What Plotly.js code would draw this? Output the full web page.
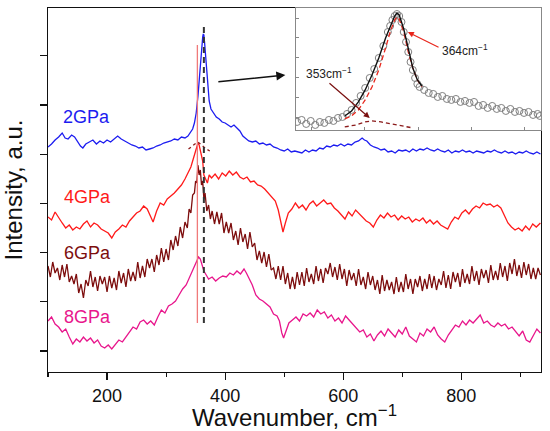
<!DOCTYPE html>
<html>
<head>
<meta charset="utf-8">
<script src="https://cdn.plot.ly/plotly-3.0.1.min.js"></script>
<style>html,body{margin:0;padding:0;background:#fff;}#chart{width:550px;height:431px;}</style>
</head>
<body>
<div id="chart"></div>
<script>
// ---- data (intensity in arbitrary units) ----
const wn2GPa = [100,106,112,118,124,129,134,140,145,150,155,159,164,170,176,182,188,194,200,206,212,218,224,230,236,242,248,254,260,266,272,278,284,290,296,302,308,314,320,326,332,337,341,345,348,351,354,356,358,360,362,363,364,365,367,369,371,373,376,380,385,390,395,400,405,410,415,420,425,430,435,440,446,452,458,464,470,476,482,488,494,500,506,512,518,524,530,536,542,548,554,560,566,572,578,584,590,596,602,608,614,620,626,632,636,640,646,652,658,664,670,676,682,688,694,700,706,712,718,724,730,736,742,748,754,760,766,772,778,784,790,796,802,808,814,820,826,832,838,844,850,856,862,868,874,880,886,892,898,904,910,916,922,928,934];
const int2GPa = [204,207,211,214,218,213,212,216,214,209,205,203,207,209,211,207,210,208,211,209,212,215,212,210,208,206,205,203,204,201,202,203,205,206,208,209,210,212,211,214,213,215,218,222,228,238,255,272,290,305,314,317,316,310,295,280,262,250,242,238,234,232,229,228,226,224,226,223,220,215,212,210,209,210,207,208,206,207,204,203,201,200,202,199,200,199,198,201,199,201,200,203,202,205,204,206,205,207,205,207,206,209,210,213,211,210,206,204,203,201,202,199,200,198,201,200,201,199,202,200,202,201,203,201,200,202,200,199,201,198,200,199,201,199,200,198,200,199,198,200,199,201,199,198,200,198,199,197,199,198,200,198,197,199,197];

const wn4GPa = [100,106,112,118,124,130,136,142,148,154,160,166,172,178,184,190,196,202,208,214,220,226,232,238,244,250,256,262,268,274,278,284,290,296,302,308,314,320,326,332,338,342,346,349,352,354,356,358,360,362,364,367,370,373,377,383,389,395,401,407,413,419,425,431,437,443,449,455,461,467,473,479,485,490,494,498,502,507,513,519,525,531,537,543,549,555,561,567,573,579,585,591,597,603,609,615,621,627,633,639,645,651,657,663,669,675,681,687,693,699,705,711,717,723,729,735,741,747,753,759,765,771,777,783,789,795,801,807,813,819,825,831,837,843,849,855,861,867,873,879,885,891,897,903,909,915,921,927,934];
const int4GPa = [134,131,139,133,128,123,126,121,124,122,127,130,124,128,126,122,120,118,113,119,122,126,124,130,134,138,140,145,142,134,129,140,148,146,152,155,158,162,166,172,179,184,192,198,204,208,206,200,197,190,176,171,168,176,173,177,172,178,175,180,176,179,174,172,174,169,170,166,165,162,158,154,150,141,131,119,128,138,142,148,143,146,141,147,150,145,148,151,147,148,143,140,136,132,139,135,141,137,133,130,128,124,131,136,133,138,134,136,131,135,132,134,129,132,130,133,128,131,127,130,126,124,122,129,134,132,138,141,137,142,145,143,148,146,147,144,146,143,136,128,124,121,123,120,125,121,127,124,128];

const wn6GPa = [100,104,108,112,116,120,124,128,132,136,140,144,148,152,156,160,164,168,172,176,180,184,188,192,196,200,204,208,212,216,220,224,228,232,236,240,244,248,252,256,260,264,268,272,276,280,284,288,292,296,300,304,308,312,316,320,324,328,332,336,339,342,345,348,350,352,354,356,358,360,362,364,366,369,372,375,378,382,386,390,394,398,402,406,410,414,418,422,426,430,434,438,442,446,450,454,458,462,466,470,474,478,482,486,490,494,498,502,506,510,514,518,522,526,530,534,538,542,546,550,554,558,562,566,570,574,578,582,586,590,594,598,602,606,610,614,618,622,626,630,634,638,642,646,650,654,658,662,666,670,674,678,682,686,690,694,698,702,706,710,714,718,722,726,730,734,738,742,746,750,754,758,762,766,770,774,778,782,786,790,794,798,802,806,810,814,818,822,826,830,834,838,842,846,850,854,858,862,866,870,874,878,882,886,890,894,898,902,906,910,914,918,922,926,930,934];
const int6GPa = [85,74,89,78,83,71,86,74,87,69,75,67,77,58,67,53,71,65,80,64,74,60,75,67,74,59,75,63,73,61,80,68,78,64,82,70,79,70,89,73,85,74,92,83,92,79,96,86,103,89,102,91,111,101,115,105,124,113,129,123,142,138,156,158,170,168,186,176,181,166,170,152,158,140,146,132,140,127,139,127,138,118,129,118,128,111,120,106,123,109,117,102,119,104,108,91,100,88,99,84,97,81,83,72,85,71,85,67,78,62,74,62,79,66,79,65,83,69,77,67,85,70,82,68,83,77,88,74,84,71,87,72,82,65,81,71,78,65,82,66,74,62,79,66,75,61,71,57,76,60,71,61,69,57,74,59,69,59,77,62,72,57,72,64,75,60,72,62,77,63,75,61,72,66,80,63,76,62,79,69,78,64,82,68,77,67,85,70,80,66,82,73,81,68,86,71,80,71,88,74,85,70,88,77,92,75,86,73,89,76,87,72,83,72,83,76];

const wn8GPa = [100,106,112,118,124,130,136,142,148,154,160,166,172,178,184,190,196,202,208,214,220,226,232,238,244,250,256,262,268,274,280,286,292,298,304,310,316,322,328,334,340,345,349,352,355,358,361,364,368,372,378,384,390,396,402,408,414,420,426,432,436,440,446,452,458,464,470,476,482,488,492,496,499,503,508,514,520,526,532,538,544,550,556,562,568,574,580,586,592,598,604,610,616,622,628,634,640,646,652,658,664,670,676,682,688,694,700,706,712,718,724,730,736,742,748,754,760,766,772,778,784,790,796,802,808,814,820,826,832,838,844,850,856,862,868,874,880,886,892,898,904,910,916,922,928,934];
const int8GPa = [30,34,27,24,19,22,14,7,12,9,14,10,13,8,11,5,3,6,2,7,11,9,14,19,24,22,29,31,27,30,26,34,41,38,45,47,50,56,62,66,74,82,87,91,94,92,86,80,76,72,74,70,73,75,74,78,76,80,77,82,78,73,66,56,52,50,47,44,37,35,30,18,13,20,28,31,34,30,37,35,38,34,41,37,39,33,36,30,33,28,35,31,27,22,19,21,14,17,10,16,20,15,22,18,14,21,17,24,15,12,9,18,15,22,19,24,16,12,9,16,21,26,24,30,26,31,28,32,36,28,30,26,24,28,25,27,22,24,19,15,20,11,9,16,22,18];

// small fit components under the 2GPa peak
const wnSmallFit = [338,344,350,353,356,362,368,374];
const intSmallFit = [202,205,208,209,208,205,202,200];

// peak position markers (cm^-1) and their vertical extent
const peakPos = [353, 364];
const peakLow = [28, 28];
const peakHigh = [306, 324];

// inset: 2GPa peak with fit
const insetWn = [320,322,324,326,328,330,332,334,336,338,340,342,344,346,348,350,352,354,356,358,360,361,362,363,364,365,366,367,368,369,370,371,372,373,374,376,378,380,382,384,386,388,390,392,394,396,398,400,402,404,406,408,410,412,414,416,418,420,422,424,426,427];
const insetInt = [8,10,6,9,5,8,7,10,9,12,13,16,20,27,34,42,52,61,72,84,98,104,110,114,116,114,108,98,88,78,68,60,52,46,43,40,37,36,33,34,31,30,31,28,29,27,28,24,25,22,24,21,22,19,21,18,19,17,18,15,16,14];
const fitWn = [341,344,347,350,353,356,359,361,363,364,365,367,369,371,373,375];
const fitTotal = [14,19,28,40,55,72,92,104,114,117,115,101,80,62,50,44];
const fit364 = [11,14,20,30,43,60,82,98,110,113,111,98,78,62,50,43];
const fit353Wn = [341,346,350,353,357,362,366,371];
const fit353 = [3,5,8,9,8,6,4,2];

const seriesNames = ['2GPa','4GPa','6GPa','8GPa'];
const seriesColors = ['#1c1cf0','#ff1a1a','#7d0d0d','#e8168c'];
const labelPos = [[122,234],[124,154],[124,98],[124,34]];

const FONT = 'Liberation Sans, Arial, Helvetica, sans-serif';

const traces = [];
const wns = [wn2GPa, wn4GPa, wn6GPa, wn8GPa];
const ints = [int2GPa, int4GPa, int6GPa, int8GPa];
for (let i = 3; i >= 0; i--) {
  traces.push({x: wns[i], y: ints[i], type: 'scatter', mode: 'lines', name: seriesNames[i],
    line: {color: seriesColors[i], width: 1.3}, hoverinfo: 'skip'});
}
traces.push({x: wnSmallFit, y: intSmallFit, mode: 'lines', line: {color: '#8b1a1a', width: 1.3, dash: '3px,3px'}});
traces.push({x: [peakPos[0], peakPos[0]], y: [peakLow[0], peakHigh[0]], mode: 'lines', line: {color: '#f07a7a', width: 1.3}});
traces.push({x: [peakPos[1], peakPos[1]], y: [peakLow[1], peakHigh[1]], mode: 'lines', line: {color: '#333', width: 2, dash: '6px,4px'}});
// inset
traces.push({x: insetWn, y: insetInt, xaxis: 'x2', yaxis: 'y2', mode: 'markers',
  marker: {symbol: 'circle-open', size: 7, color: '#808080', line: {width: 1, color: '#808080'}}});
traces.push({x: fitWn, y: fit364, xaxis: 'x2', yaxis: 'y2', mode: 'lines', line: {color: '#e8261c', width: 1.3, dash: '5px,3px'}});
traces.push({x: fitWn, y: fitTotal, xaxis: 'x2', yaxis: 'y2', mode: 'lines', line: {color: '#111', width: 1.4}});
traces.push({x: fit353Wn, y: fit353, xaxis: 'x2', yaxis: 'y2', mode: 'lines', line: {color: '#8b1a1a', width: 1.3, dash: '4px,3px'}});

const annotations = seriesNames.map((n, i) => ({
  x: labelPos[i][0], y: labelPos[i][1], xref: 'x', yref: 'y', text: n, showarrow: false,
  xanchor: 'left', yanchor: 'middle', font: {family: FONT, size: 18, color: seriesColors[i]}
}));
annotations.push({x: 502, y: 276, ax: 386, ay: 269, xref: 'x', yref: 'y', axref: 'x', ayref: 'y',
  text: '', showarrow: true, arrowhead: 2, arrowsize: 1.2, arrowwidth: 1.5, arrowcolor: '#111'});
annotations.push({x: 394, y: 80, xref: 'x2', yref: 'y2', text: '364cm<sup>−1</sup>', showarrow: false,
  font: {family: FONT, size: 12, color: '#222'}});
annotations.push({x: 334, y: 57, xref: 'x2', yref: 'y2', text: '353cm<sup>−1</sup>', showarrow: false,
  font: {family: FONT, size: 12, color: '#222'}});
annotations.push({x: 368.8, y: 98, ax: 383, ay: 82, xref: 'x2', yref: 'y2', axref: 'x2', ayref: 'y2',
  text: '', showarrow: true, arrowhead: 2, arrowsize: 1, arrowwidth: 1.2, arrowcolor: '#e8261c'});
annotations.push({x: 352, y: 12, ax: 333.6, ay: 48, xref: 'x2', yref: 'y2', axref: 'x2', ayref: 'y2',
  text: '', showarrow: true, arrowhead: 2, arrowsize: 1, arrowwidth: 1.2, arrowcolor: '#7a1010'});

const layout = {
  width: 550, height: 431,
  margin: {l: 48, r: 9, t: 8, b: 59},
  paper_bgcolor: '#fff', plot_bgcolor: '#fff',
  showlegend: false,
  font: {family: FONT, color: '#111'},
  xaxis: {
    domain: [0, 1], range: [100, 935], showgrid: false, zeroline: false,
    showline: true, mirror: true, linecolor: '#111', linewidth: 1.3,
    ticks: 'outside', ticklen: 7, tickwidth: 1.2, tickcolor: '#111',
    tick0: 0, dtick: 200,
    minor: {dtick: 100, ticks: 'outside', ticklen: 4, tickwidth: 1.1, tickcolor: '#111', showgrid: false},
    tickfont: {family: FONT, size: 18, color: '#111'},
    title: {text: 'Wavenumber, cm<sup>−1</sup>', font: {family: FONT, size: 24, color: '#111'}, standoff: 6}
  },
  yaxis: {
    domain: [0, 1], range: [-21, 343], showgrid: false, zeroline: false,
    showline: true, mirror: true, linecolor: '#111', linewidth: 1.3,
    ticks: 'outside', ticklen: 7, tickwidth: 1.2, tickcolor: '#111',
    tick0: 0, dtick: 49.2, showticklabels: false,
    title: {text: 'Intensity, a.u.', font: {family: FONT, size: 24, color: '#111'}, standoff: 12}
  },
  xaxis2: {
    domain: [0.503, 1], anchor: 'y2', range: [319.5, 427.5], showgrid: false, zeroline: false,
    showline: true, mirror: true, linecolor: '#888', linewidth: 1,
    ticks: 'inside', ticklen: 3, tickcolor: '#888', tick0: 326.5, dtick: 23.4, showticklabels: false
  },
  yaxis2: {
    domain: [0.665, 1], anchor: 'x2', range: [0, 122], showgrid: false, zeroline: false,
    showline: true, mirror: true, linecolor: '#888', linewidth: 1,
    ticks: 'inside', ticklen: 3, tickcolor: '#888', tick0: 12, dtick: 20, showticklabels: false
  },
  annotations: annotations
};

Plotly.newPlot('chart', traces, layout, {displayModeBar: false, staticPlot: true});
</script>
</body>
</html>
